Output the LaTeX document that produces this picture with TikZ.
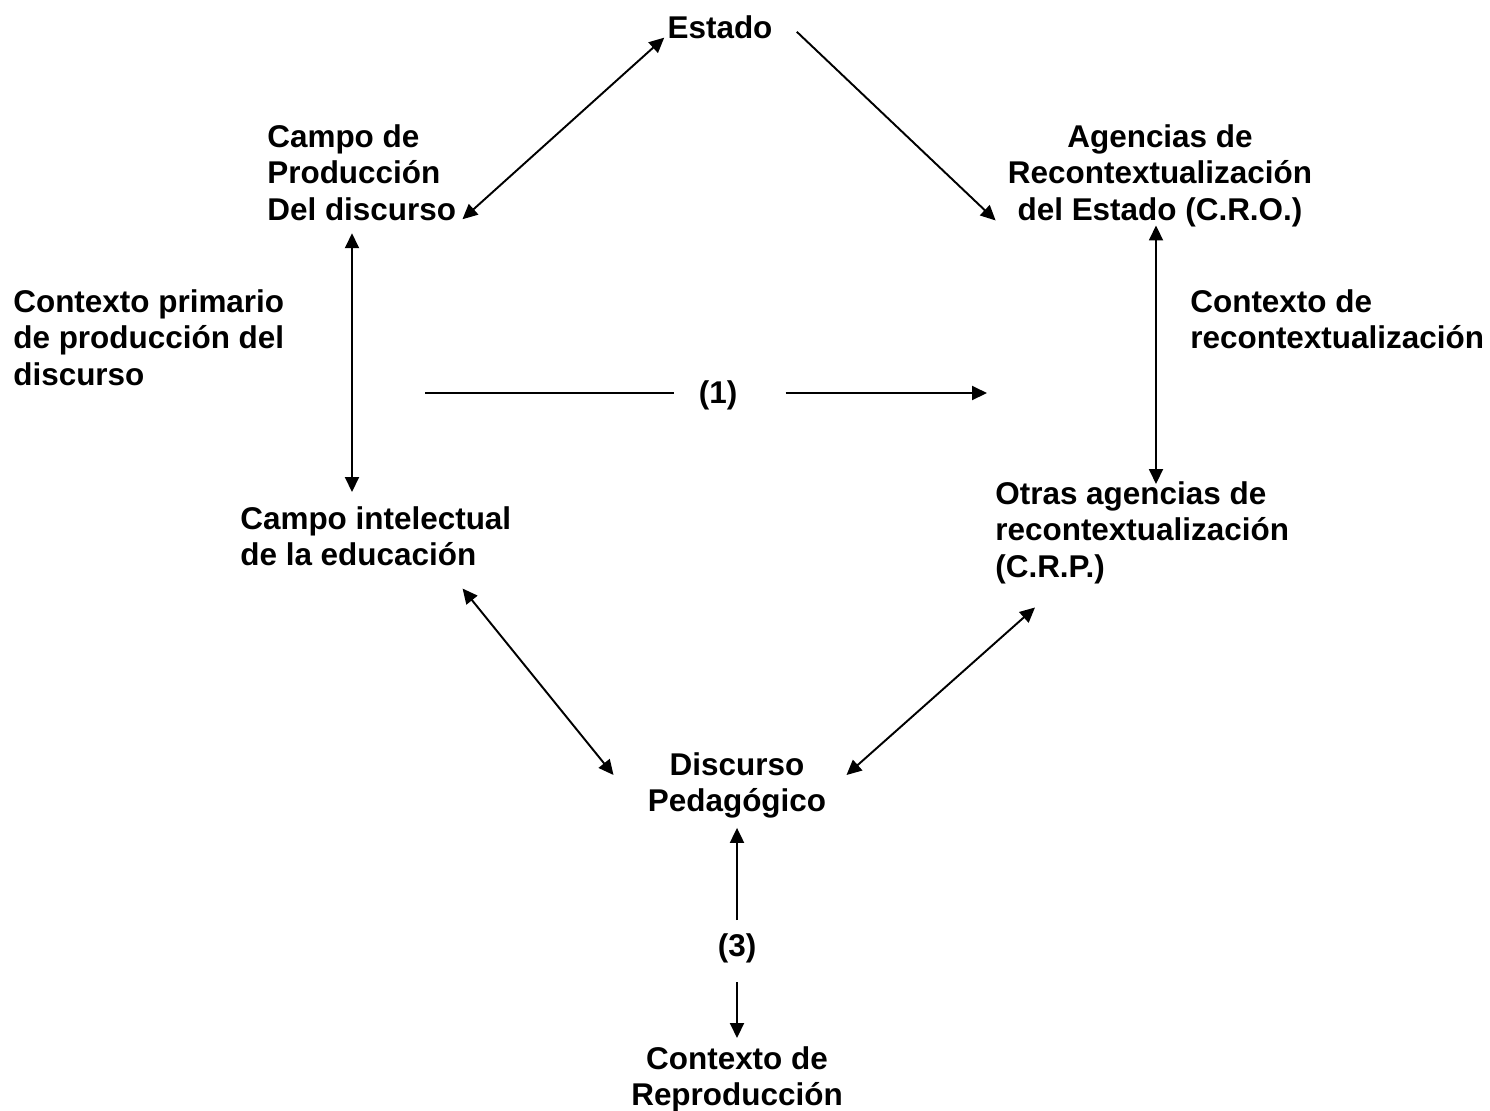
\documentclass[tikz,border=0pt]{standalone}
\usepackage{fontspec}
\setmainfont{Liberation Sans}
\usetikzlibrary{arrows.meta,calc}
\begin{document}
\begin{tikzpicture}[x=0.02cm,y=-0.02cm,
  lbl/.style={inner sep=0pt,font=\fontsize{17.9}{20.9}\selectfont\bfseries},
  link/.style={line width=1.1pt},
  one/.style={link,-{Triangle[length=0.3cm,width=0.28cm]}},
  two/.style={link,{Triangle[length=0.3cm,width=0.28cm]}-{Triangle[length=0.3cm,width=0.28cm]}}]
\useasboundingbox (0,0) rectangle (1490,1110);
\node[lbl,anchor=base] (estado) at (720,38) {Estado};
\node[lbl,anchor=north west,align=left] (prod) at (267,124) {Campo de\\Producción\\Del discurso};
\node[lbl,anchor=north,align=center] (agencias) at (1160,124) {Agencias de\\Recontextualización\\del Estado (C.R.O.)};
\node[lbl,anchor=north west,align=left] (ctxprim) at (13,289) {Contexto primario\\de producción del\\discurso};
\node[lbl,anchor=north west,align=left] (ctxrec) at (1190,289) {Contexto de\\recontextualización};
\node[lbl] (uno) at (718,395) {(1)};
\node[lbl,anchor=north west,align=left] (intel) at (240,506) {Campo intelectual\\de la educación};
\node[lbl,anchor=north west,align=left] (otras) at (995,481) {Otras agencias de\\recontextualización\\(C.R.P.)};
\node[lbl,anchor=north,align=center] (disc) at (737,752) {Discurso\\Pedagógico};
\node[lbl] (tres) at (737,948) {(3)};
\node[lbl,anchor=north,align=center] (reprod) at (737,1046) {Contexto de\\Reproducción};
\coordinate (lfree) at (425,393);
\coordinate (rfree) at (987,393);
% upper part
\draw[two] ($(estado.south west)+(-3,-1)$) -- ($(prod.south east)+(6,-2)$);
\draw[one] ($(estado.east)+(24,5)$) -- ($(agencias.south west)+(-12,-7)$);
\draw[two] ($(prod.south west)+(85,12)$) -- ($(intel.north west)+(112,-14)$);
\draw[two] ($(agencias.south)+(-4,-2)$) -- ($(otras.north west)+(161,3)$);
% middle
\draw[link,shorten >=0.48cm] (lfree) -- (uno.west |- lfree);
\draw[one,shorten <=0.96cm] (uno.east |- rfree) -- (rfree);
% lower part
\draw[two] ($(intel.south east)+(-49,22)$) -- ($(disc.north west)+(-34,23)$);
\draw[two] ($(otras.south west)+(40,23)$) -- ($(disc.north east)+(20,23)$);
\draw[one,shorten <=0.26cm,shorten >=0.18cm] (tres.north) -- (disc.south);
\draw[one,shorten <=0.38cm,shorten >=0.16cm] (tres.south) -- (reprod.north);
\end{tikzpicture}
\end{document}
